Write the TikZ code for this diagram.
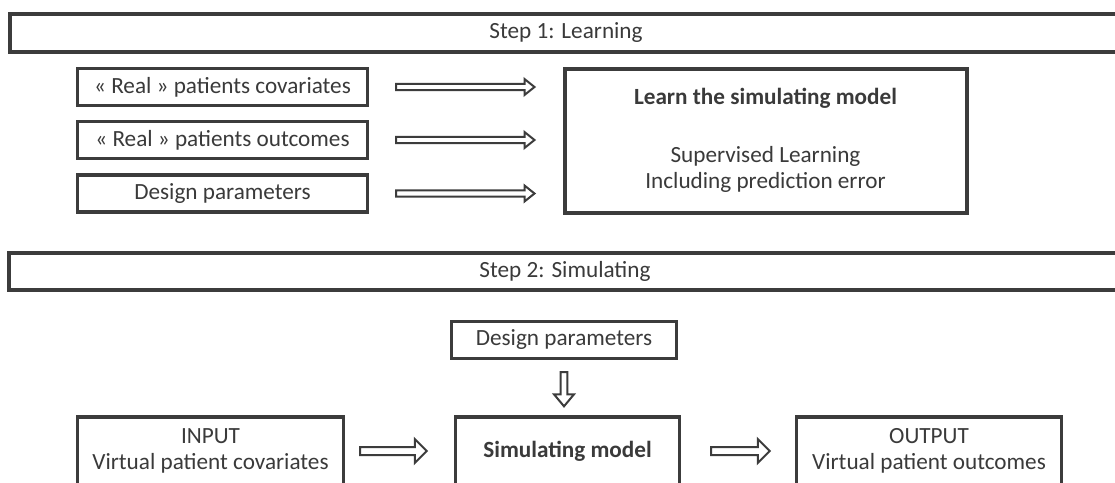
\documentclass[tikz,border=0pt]{standalone}
\usepackage{fontspec}
\setmainfont{Carlito}
\usetikzlibrary{calc}
\definecolor{ln}{HTML}{3C3C3C}
\definecolor{tx}{HTML}{3A3A3A}
% #1 src, #2 tgt, #3 gap at start, #4 gap at end, #5 shaft half, #6 head half, #7 head length
\newcommand\rarrowshape[7]{%
  \draw[fatarrow] let \p1=(#1), \p2=(#2) in
   (\x1+#3,\y1-#5) -- (\x2-#4-#7,\y1-#5) -- (\x2-#4-#7,\y1-#6) -- (\x2-#4,\y1)
   -- (\x2-#4-#7,\y1+#6) -- (\x2-#4-#7,\y1+#5) -- (\x1+#3,\y1+#5) -- cycle;}
\newcommand\darrowshape[7]{%
  \draw[fatarrow] let \p1=(#1), \p2=(#2) in
   (\x1-#5,\y1-#3) -- (\x1-#5,\y2+#4+#7) -- (\x1-#6,\y2+#4+#7) -- (\x1,\y2+#4)
   -- (\x1+#6,\y2+#4+#7) -- (\x1+#5,\y2+#4+#7) -- (\x1+#5,\y1-#3) -- cycle;}
\begin{document}
\begin{tikzpicture}[x=1pt,y=-1pt,
  txt/.style={text=tx, font=\fontsize{23.2}{26.5}\selectfont},
  box/.style={txt, draw=ln, line width=3.4pt, fill=white, align=center, inner sep=0pt},
  bigbox/.style={box, line width=4pt},
  banner/.style={box, line width=4pt},
  fatarrow/.style={draw=ln, line width=2pt, fill=white, line join=miter},
]
\useasboundingbox (0,0) rectangle (1115,482);
\fill[white] (0,0) rectangle (1115,482);

% Step 1
\node[banner, minimum width=1112pt, minimum height=38pt] (s1) at (566,32.5) {Step 1: Learning};
\node[box, minimum width=290pt, minimum height=37pt] (c1) at (222.5,87) {« Real » patients covariates};
\node[box, minimum width=290pt, minimum height=37pt] (c2) at (222.5,140) {« Real » patients outcomes};
\node[box, minimum width=290pt, minimum height=37pt] (c3) at (222.5,193.5) {Design parameters};
\node[bigbox, minimum width=402pt, minimum height=144pt] (lm) at (765.5,140.5)
  {\textbf{Learn the simulating model}\\[31.5pt]Supervised Learning\\Including prediction error};

\rarrowshape{c1.east}{lm.west}{27pt}{28pt}{3.1pt}{8pt}{10pt}
\rarrowshape{c2.east}{lm.west}{27pt}{28pt}{3.1pt}{8pt}{10pt}
\rarrowshape{c3.east}{lm.west}{27pt}{28pt}{3.1pt}{8pt}{10pt}

% Step 2
\node[banner, minimum width=1112pt, minimum height=37pt] (s2) at (565,271) {Step 2: Simulating};
\node[box, minimum width=225pt, minimum height=37pt] (dp) at (564,340) {Design parameters};
\node[box, minimum width=266pt, minimum height=68pt] (in) at (210.5,451) {INPUT\\Virtual patient covariates};
\node[box, minimum width=224pt, minimum height=68pt] (sm) at (567.5,451) {\textbf{Simulating model}};
\node[box, minimum width=265pt, minimum height=68pt] (out) at (929,451) {OUTPUT\\Virtual patient outcomes};

\rarrowshape{in.east}{sm.west}{15pt}{27pt}{4pt}{12pt}{12pt}
\rarrowshape{sm.east}{out.west}{30pt}{25pt}{4pt}{12pt}{12pt}
\darrowshape{dp.south}{sm.north}{12pt}{9pt}{3.3pt}{10pt}{12pt}
\end{tikzpicture}
\end{document}
